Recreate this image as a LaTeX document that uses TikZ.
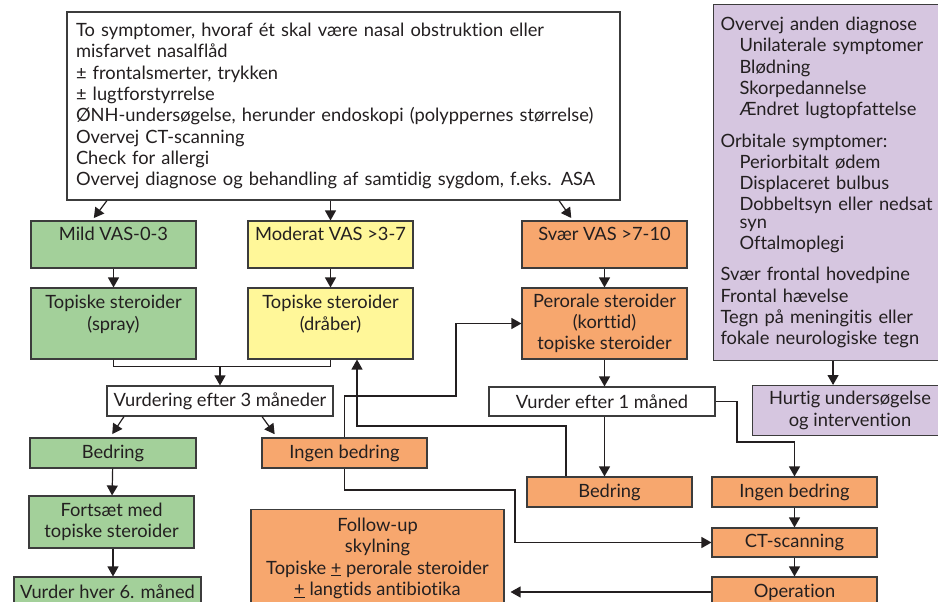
\documentclass[tikz,border=0pt]{standalone}
\usepackage{fontspec}
\setmainfont{Lato}[Ligatures=NoCommon]
\usetikzlibrary{arrows.meta,calc}

\definecolor{inkc}{RGB}{35,31,32}
\definecolor{edgec}{RGB}{60,60,60}
\definecolor{mildc}{RGB}{163,208,154}
\definecolor{modc}{RGB}{255,247,153}
\definecolor{sevc}{RGB}{247,167,110}
\definecolor{alertc}{RGB}{214,198,224}

\tikzset{
  box/.style={draw=edgec, line width=1.1pt, inner sep=0pt, align=center,
    text=inkc, font=\fontsize{18.3}{21.3}\selectfont},
  mildbox/.style={box, fill=mildc},
  modbox/.style={box, fill=modc},
  sevbox/.style={box, fill=sevc},
  alertbox/.style={box, fill=alertc},
  plainbox/.style={box, fill=white},
  arr/.style={draw=inkc, line width=1.2pt, -{Triangle[width=11pt,length=10pt]}},
  ln/.style={draw=inkc, line width=1.2pt},
}

\begin{document}
\begin{tikzpicture}[x=1pt, y=-1pt]
\useasboundingbox (0,0) rectangle (938,602);
\clip (0,0) rectangle (938,602);
\fill[white] (0,0) rectangle (938,602);

% entry criteria
\node[plainbox, minimum width=553pt, minimum height=188pt, text width=535pt, align=left]
  (top) at (343.5,106) {To symptomer, hvoraf ét skal være nasal obstruktion eller\\
  misfarvet nasalflåd\\
  ± frontalsmerter, trykken\\
  ± lugtforstyrrelse\\
  ØNH-undersøgelse, herunder endoskopi (polyppernes størrelse)\\
  Overvej CT-scanning\\
  Check for allergi\\
  Overvej diagnose og behandling af samtidig sygdom, f.eks. ASA};

% warning signs (box runs past the right edge)
\node[alertbox, minimum width=240pt, minimum height=356pt, text width=226pt, align=left,
  anchor=north west] (alert) at (713,4) {Overvej anden diagnose\\
  \hspace*{19pt}Unilaterale symptomer\\
  \hspace*{19pt}Blødning\\
  \hspace*{19pt}Skorpedannelse\\
  \hspace*{19pt}Ændret lugtopfattelse\\[10pt]
  Orbitale symptomer:\\
  \hspace*{19pt}Periorbitalt ødem\\
  \hspace*{19pt}Displaceret bulbus\\
  \hspace*{19pt}Dobbeltsyn eller nedsat\\[-4pt]
  \hspace*{19pt}syn\\
  \hspace*{19pt}Oftalmoplegi\\[10pt]
  Svær frontal hovedpine\\
  Frontal hævelse\\
  Tegn på meningitis eller\\
  fokale neurologiske tegn};
\node[alertbox, minimum width=195pt, minimum height=50pt, anchor=north west]
  (fast) at (752,385) {Hurtig undersøgelse\\og intervention};

% severity columns
\node[mildbox, minimum width=165pt, minimum height=47pt] (mild) at (113.5,244.5) {Mild VAS-0-3\\\mbox{}};
\node[modbox, minimum width=165pt, minimum height=47pt] (mod) at (330.5,244.5) {Moderat VAS >3-7\\\mbox{}};
\node[sevbox, minimum width=165pt, minimum height=47pt] (sev) at (604.5,244.5) {Svær VAS >7-10\\\mbox{}};

\node[mildbox, minimum width=165pt, minimum height=71pt] (spray) at (113.5,323.5) {Topiske steroider\\(spray)\\\mbox{}};
\node[modbox, minimum width=165pt, minimum height=71pt] (drops) at (330.5,323.5) {Topiske steroider\\(dråber)\\\mbox{}};
\node[sevbox, minimum width=165pt, minimum height=71pt] (oral) at (604.5,323.5) {Perorale steroider\\(korttid)\\topiske steroider};

% reviews
\node[plainbox, minimum width=226pt, minimum height=30pt] (rev3) at (220,401) {Vurdering efter 3 måneder};
\node[plainbox, minimum width=226pt, minimum height=29pt] (rev1) at (602,401.5) {Vurder efter 1 måned};

\node[mildbox, minimum width=166pt, minimum height=30pt] (betterL) at (113,453) {Bedring};
\node[sevbox, minimum width=165pt, minimum height=30pt] (noneL) at (344.5,453) {Ingen bedring};
\node[mildbox, minimum width=165pt, minimum height=52pt] (cont) at (111.5,522) {Fortsæt med\\topiske steroider};
\node[mildbox, minimum width=187pt, minimum height=30pt] (rev6) at (107.5,592) {Vurder hver 6. måned};

\node[sevbox, minimum width=165pt, minimum height=30pt] (betterR) at (609.5,492) {Bedring};
\node[sevbox, minimum width=165pt, minimum height=30pt] (noneR) at (794.5,492) {Ingen bedring};
\node[sevbox, minimum width=165pt, minimum height=29pt] (ct) at (794.5,542.5) {CT-scanning};
\node[sevbox, minimum width=165pt, minimum height=30pt] (op) at (794.5,592) {Operation};

\node[sevbox, minimum width=253pt, inner ysep=8.5pt, anchor=north] (follow) at (377.5,509)
  {Follow-up\\skylning\\Topiske \underline{+} perorale steroider\\\underline{+} langtids antibiotika};

% connectors
\draw[arr, shorten >=3pt] ([xshift=-236.5pt]top.south) -- ([xshift=-21.5pt]mild.north);
\draw[arr] (top.south -| mod.north) -- (mod.north);
\draw[arr, shorten >=3pt] ([xshift=215.5pt]top.south) -- ([xshift=-31.5pt]sev.north);

\draw[arr] (mild) -- (spray);
\draw[arr] (mod) -- (drops);
\draw[arr] (sev) -- (oral);

\draw[ln] (spray.south) -- ++(0,7) -| (drops.south);
\draw[arr] ([yshift=-7pt]rev3.north |- spray.south) -- (rev3.north);
\draw[arr] (oral.south) -- (oral.south |- rev1.north);
\draw[arr] ([xshift=-17pt]alert.south -| fast.north) -- ([xshift=-17pt]fast.north);

\draw[arr, shorten >=4pt] ([xshift=-96pt]rev3.south) -- ([xshift=-3pt]betterL.north);
\draw[arr, shorten >=4pt] ([xshift=42pt]rev3.south) -- ([xshift=-67.5pt]noneL.north);
\draw[arr] (betterL) -- (cont);
\draw[arr] ([xshift=1.5pt]cont.south) -- ([xshift=1.5pt]cont.south |- rev6.north);

% no improvement after 3 months: step up to oral steroids, or on to CT
\coordinate (k1) at (456,396);
\draw[arr] (noneL.north) |- (k1) |- (oral.west);
\coordinate (k3) at (515,490);
\draw[arr] (noneL.south) |- (k3) |- (ct.west);

% improvement after 1 month: back to topical drops
\coordinate (k2) at (357,426);
\draw[arr] ([xshift=-43.5pt]betterR.north) |- (k2) -- (k2 |- drops.south);

\draw[arr] (oral.south |- rev1.south) -- (oral.south |- betterR.north);
\coordinate (k4) at (737,442);
\draw[arr] (rev1.east) -| (k4) -| (noneR.north);
\draw[arr] (noneR) -- (ct);
\draw[arr] (ct) -- (op);
\draw[arr, shorten >=6pt] (op.west) -- (follow.east |- op.west);
\end{tikzpicture}
\end{document}
